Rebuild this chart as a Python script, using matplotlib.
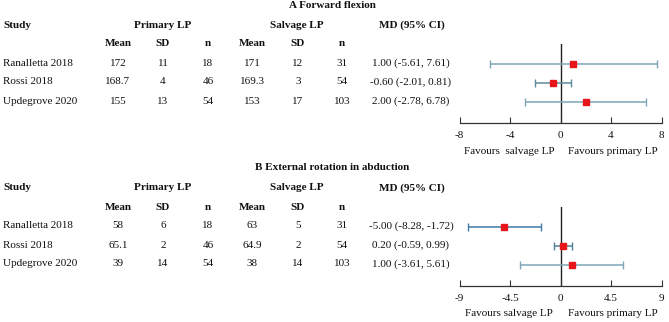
import matplotlib
matplotlib.use("Agg")
import matplotlib.pyplot as plt

plt.rcParams['font.family'] = ['Liberation Serif', 'DejaVu Serif']

W, H = 669, 322

studies = ["Ranalletta 2018", "Rossi 2018", "Updegrove 2020"]

# Panel A: Forward flexion
a_prim_mean = [172, 168.7, 155]
a_prim_sd = [11, 4, 13]
a_prim_n = [18, 46, 54]
a_salv_mean = [171, 169.3, 153]
a_salv_sd = [12, 3, 17]
a_salv_n = [31, 54, 103]
a_md = [1.00, -0.60, 2.00]
a_lo = [-5.61, -2.01, -2.78]
a_hi = [7.61, 0.81, 6.78]
a_ticks = [-8, -4, 0, 4, 8]
a_tick_labels = ["-8", "-4", "0", "4", "8"]

# Panel B: External rotation in abduction
b_prim_mean = [58, 65.1, 39]
b_prim_sd = [6, 2, 14]
b_prim_n = [18, 46, 54]
b_salv_mean = [63, 64.9, 38]
b_salv_sd = [5, 2, 14]
b_salv_n = [31, 54, 103]
b_md = [-5.00, 0.20, 1.00]
b_lo = [-8.28, -0.59, -3.61]
b_hi = [-1.72, 0.99, 5.61]
b_ticks = [-9, -4.5, 0, 4.5, 9]
b_tick_labels = ["-9", "-4.5", "0", "4.5", "9"]

fig = plt.figure(figsize=(W / 100, H / 100), dpi=100)
FS = 8.0


def t(x, y, s, ha="center", bold=False, size=FS):
    fig.text(x / W, 1 - y / H, s, ha=ha, va="center", fontsize=size,
             fontweight="bold" if bold else "normal", color="#111111")


def panel(y0, title, pm, psd, pn, sm, ssd, sn, md, lo, hi, ticks, tlabels,
          lim, colors, fav_left, fav_right):
    t(332, y0 - 3, title, bold=True)
    t(3, y0 + 17, "Study", ha="left", bold=True)
    t(163, y0 + 17, "Primary LP", bold=True)
    t(297, y0 + 17, "Salvage LP", bold=True)
    t(412, y0 + 17, "MD (95% CI)", bold=True)
    for x, s in zip([118, 163, 208, 252, 298, 342],
                    ["Mean", "SD", "n", "Mean", "SD", "n"]):
        t(x, y0 + 36, s, bold=True)
    for i, st in enumerate(studies):
        yy = y0 + 55 + 19 * i
        t(3, yy, st, ha="left")
        for x, v in zip([118, 163, 208, 252, 298, 342],
                        [pm[i], psd[i], pn[i], sm[i], ssd[i], sn[i]]):
            t(x, yy, f"{v:g}")
        t(411, yy, f"{md[i]:.2f} ({lo[i]:.2f}, {hi[i]:.2f})")

    # forest axes
    x0, x1 = 459.5, 661.5
    top, bot = y0 + 36, y0 + 114.5
    ax = fig.add_axes([x0 / W, 1 - bot / H, (x1 - x0) / W, (bot - top) / H])
    ax.set_xlim(-lim, lim)
    row0 = y0 + 55.5
    ax.set_ylim((bot - row0) / 19, (top - row0) / 19)
    for i in range(len(studies)):
        ax.errorbar(md[i], i, xerr=[[md[i] - lo[i]], [hi[i] - md[i]]],
                    fmt="none", ecolor=colors[i], elinewidth=1.1,
                    capsize=2.6, capthick=1.0, zorder=2)
        ax.plot(md[i], i, marker="s", ms=4.3, color="#E8151B",
                markeredgecolor="#E8151B", zorder=3)
    ax.axvline(0, color="#222222", lw=1.0, zorder=1)
    for s in ["left", "right", "top"]:
        ax.spines[s].set_visible(False)
    ax.spines["bottom"].set_color("#333333")
    ax.spines["bottom"].set_linewidth(0.9)
    ax.set_yticks([])
    ax.set_xticks(ticks)
    ax.set_xticklabels(tlabels, fontsize=FS)
    ax.tick_params(axis="x", direction="in", length=4, width=0.8,
                   colors="#333333", labelcolor="#111111", pad=6)
    ax.patch.set_alpha(0)
    t(509, y0 + 143, fav_left)
    t(613, y0 + 143, fav_right)


panel(8, "A Forward flexion", a_prim_mean, a_prim_sd, a_prim_n,
      a_salv_mean, a_salv_sd, a_salv_n, a_md, a_lo, a_hi,
      a_ticks, a_tick_labels, 8,
      ["#7FA5B6", "#5C8A9E", "#7FA5B6"],
      "Favours  salvage LP", "Favours primary LP")

panel(171, "B External rotation in abduction", b_prim_mean, b_prim_sd, b_prim_n,
      b_salv_mean, b_salv_sd, b_salv_n, b_md, b_lo, b_hi,
      b_ticks, b_tick_labels, 9,
      ["#3E7BA6", "#4F8198", "#7FA5B6"],
      "Favours salvage LP", "Favours primary LP")

fig.savefig("out.png", dpi=100, facecolor="white")
